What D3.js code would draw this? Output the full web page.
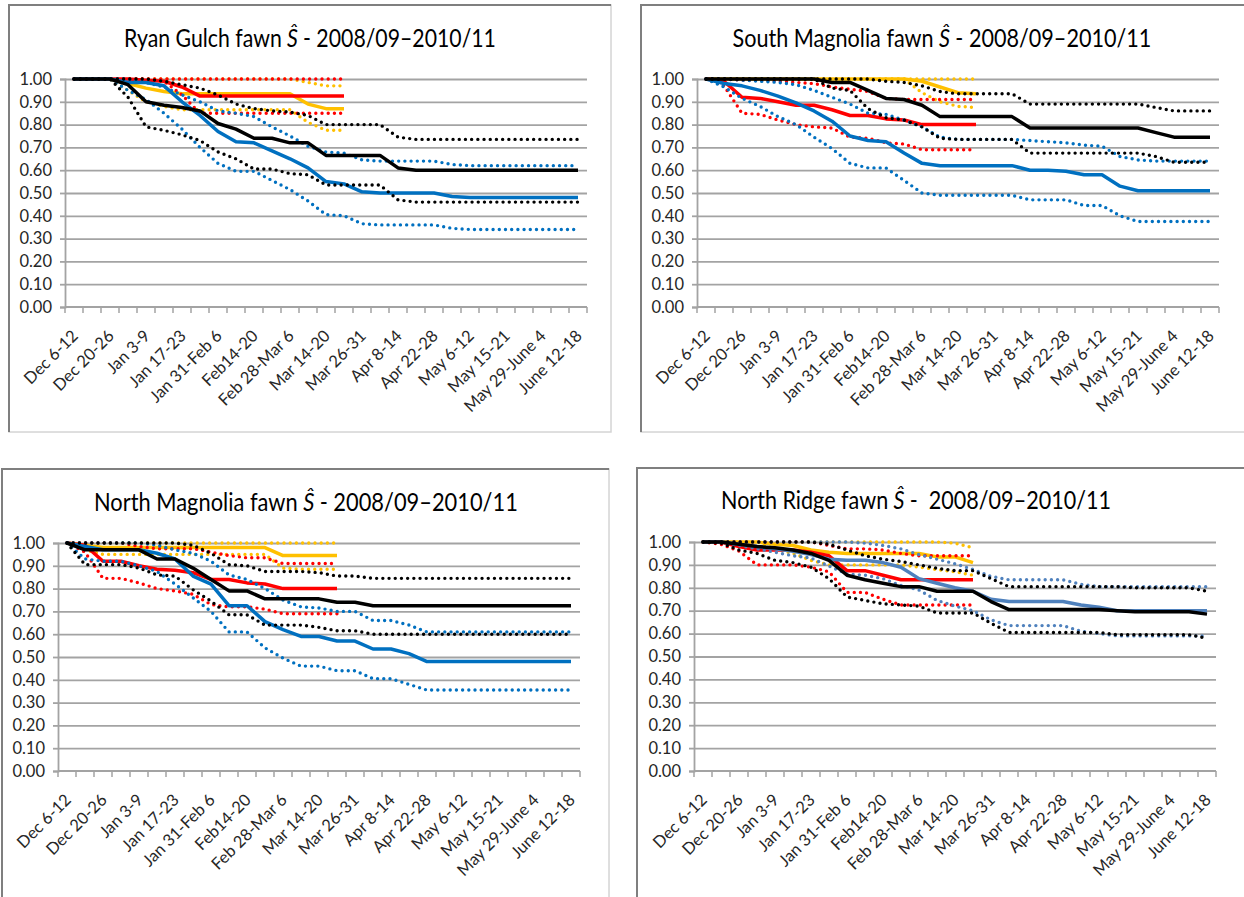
<!DOCTYPE html>
<html>
<head>
<meta charset="utf-8">
<script src="https://cdn.jsdelivr.net/npm/d3@7"></script>
<style>
  body { margin: 0; background: #fff; }
  text { font-family: Lato, "Open Sans", sans-serif; }
</style>
</head>
<body>
<div id="chart"></div>
<script>
// weekly categories (only every other one is labelled)
const categories = ['Dec 6-12', 'Dec 13-19', 'Dec 20-26', 'Dec 27-Jan 2', 'Jan 3-9', 'Jan 10-16', 'Jan 17-23',
  'Jan 24-30', 'Jan 31-Feb 6', 'Feb 7-13', 'Feb14-20', 'Feb 21-27', 'Feb 28-Mar 6', 'Mar 7-13', 'Mar 14-20',
  'Mar 21-25', 'Mar 26-31', 'Apr 1-7', 'Apr 8-14', 'Apr 15-21', 'Apr 22-28', 'Apr 29-May 5', 'May 6-12',
  'May 13-14', 'May 15-21', 'May 22-28', 'May 29-June 4', 'June 5-11', 'June 12-18'];
const yTicks = [0, 0.1, 0.2, 0.3, 0.4, 0.5, 0.6, 0.7, 0.8, 0.9, 1.0];
const titles = ['Ryan Gulch', 'South Magnolia', 'North Magnolia', 'North Ridge'];

// Ryan Gulch
const rgYellow   = [1, 1, 1, 0.98, 0.96, 0.945, 0.935, 0.935, 0.935, 0.935, 0.935, 0.935, 0.935, 0.89, 0.87, 0.87];
const rgYellowHi = [1, 1, 1, 1, 1, 1, 1, 1, 1, 1, 1, 1, 1, 0.985, 0.97, 0.97];
const rgYellowLo = [1, 1, 1, 0.95, 0.9, 0.88, 0.865, 0.865, 0.865, 0.865, 0.865, 0.865, 0.865, 0.81, 0.775, 0.775];
const rgRed   = [1, 1, 1, 1, 0.995, 0.99, 0.965, 0.925, 0.925, 0.925, 0.925, 0.925, 0.925, 0.925, 0.925, 0.925];
const rgRedHi = [1, 1, 1, 1, 1, 1, 1, 1, 1, 1, 1, 1, 1, 1, 1, 1];
const rgRedLo = [1, 1, 1, 1, 1, 0.99, 0.93, 0.85, 0.85, 0.85, 0.85, 0.85, 0.85, 0.85, 0.85, 0.85];
const rgBlue   = [1, 1, 1, 0.985, 0.985, 0.97, 0.9, 0.84, 0.77, 0.725, 0.72, 0.685, 0.65, 0.61, 0.55, 0.54, 0.505,
  0.5, 0.5, 0.5, 0.5, 0.485, 0.48, 0.48, 0.48, 0.48, 0.48, 0.48, 0.48];
const rgBlueHi = [1, 1, 1, 1, 0.985, 0.965, 0.93, 0.9, 0.86, 0.85, 0.835, 0.79, 0.75, 0.705, 0.68, 0.675, 0.645,
  0.64, 0.64, 0.64, 0.64, 0.625, 0.62, 0.62, 0.62, 0.62, 0.62, 0.62, 0.62];
const rgBlueLo = [1, 1, 1, 0.95, 0.91, 0.85, 0.78, 0.7, 0.63, 0.595, 0.595, 0.555, 0.515, 0.465, 0.405, 0.4, 0.365,
  0.36, 0.36, 0.36, 0.36, 0.345, 0.34, 0.34, 0.34, 0.34, 0.34, 0.34, 0.34];
const rgBlack   = [1, 1, 1, 0.975, 0.9, 0.885, 0.875, 0.86, 0.805, 0.78, 0.74, 0.74, 0.72, 0.72, 0.665, 0.665, 0.665,
  0.665, 0.61, 0.6, 0.6, 0.6, 0.6, 0.6, 0.6, 0.6, 0.6, 0.6, 0.6];
const rgBlackHi = [1, 1, 1, 1, 1, 0.99, 0.975, 0.96, 0.93, 0.89, 0.87, 0.86, 0.855, 0.84, 0.8, 0.8, 0.8,
  0.8, 0.745, 0.735, 0.735, 0.735, 0.735, 0.735, 0.735, 0.735, 0.735, 0.735, 0.735];
const rgBlackLo = [1, 1, 1, 0.92, 0.79, 0.775, 0.755, 0.73, 0.68, 0.65, 0.605, 0.605, 0.585, 0.58, 0.535, 0.535, 0.535,
  0.535, 0.47, 0.46, 0.46, 0.46, 0.46, 0.46, 0.46, 0.46, 0.46, 0.46, 0.46];

// South Magnolia
const smYellow   = [1, 1, 1, 1, 1, 1, 1, 1, 1, 1, 1, 1, 0.99, 0.965, 0.94, 0.935];
const smYellowHi = [1, 1, 1, 1, 1, 1, 1, 1, 1, 1, 1, 1, 1, 1, 1, 1];
const smYellowLo = [1, 1, 1, 1, 1, 1, 1, 1, 1, 1, 1, 1, 0.94, 0.9, 0.88, 0.875];
const smRed   = [1, 0.99, 0.92, 0.915, 0.9, 0.885, 0.885, 0.865, 0.84, 0.84, 0.825, 0.82, 0.8, 0.8, 0.8, 0.8];
const smRedHi = [1, 1, 0.995, 0.995, 0.99, 0.985, 0.98, 0.965, 0.955, 0.945, 0.915, 0.91, 0.91, 0.91, 0.91, 0.91];
const smRedLo = [1, 0.97, 0.85, 0.845, 0.82, 0.8, 0.79, 0.785, 0.745, 0.74, 0.72, 0.715, 0.69, 0.69, 0.69, 0.69];
const smBlue   = [1, 0.98, 0.97, 0.95, 0.925, 0.895, 0.86, 0.815, 0.75, 0.73, 0.725, 0.675, 0.63, 0.62, 0.62, 0.62, 0.62,
  0.62, 0.6, 0.6, 0.595, 0.58, 0.58, 0.53, 0.51, 0.51, 0.51, 0.51, 0.51];
const smBlueHi = [1, 1, 0.995, 0.99, 0.985, 0.975, 0.95, 0.92, 0.89, 0.85, 0.845, 0.82, 0.79, 0.745, 0.735, 0.735, 0.735,
  0.735, 0.73, 0.725, 0.72, 0.71, 0.705, 0.66, 0.645, 0.64, 0.64, 0.64, 0.64];
const smBlueLo = [1, 0.965, 0.915, 0.88, 0.835, 0.8, 0.745, 0.695, 0.63, 0.61, 0.61, 0.555, 0.5, 0.49, 0.49, 0.49, 0.49,
  0.49, 0.47, 0.47, 0.47, 0.445, 0.445, 0.4, 0.375, 0.375, 0.375, 0.375, 0.375];
const smBlack   = [1, 1, 1, 1, 1, 1, 1, 0.985, 0.985, 0.95, 0.915, 0.91, 0.885, 0.835, 0.835, 0.835, 0.835,
  0.835, 0.785, 0.785, 0.785, 0.785, 0.785, 0.785, 0.785, 0.765, 0.745, 0.745, 0.745];
const smBlackHi = [1, 1, 1, 1, 1, 1, 1, 1, 1, 1, 0.99, 0.985, 0.97, 0.945, 0.935, 0.935, 0.935,
  0.935, 0.89, 0.89, 0.89, 0.89, 0.89, 0.89, 0.89, 0.875, 0.86, 0.86, 0.86];
const smBlackLo = [1, 1, 1, 1, 1, 1, 1, 0.96, 0.95, 0.87, 0.83, 0.82, 0.79, 0.74, 0.735, 0.735, 0.735,
  0.735, 0.675, 0.675, 0.675, 0.675, 0.675, 0.675, 0.675, 0.66, 0.635, 0.635, 0.635];

// North Magnolia
const nmYellow   = [1, 0.99, 0.98, 0.98, 0.98, 0.98, 0.98, 0.98, 0.98, 0.98, 0.98, 0.98, 0.945, 0.945, 0.945, 0.945];
const nmYellowHi = [1, 1, 1, 1, 1, 1, 1, 1, 1, 1, 1, 1, 1, 1, 1, 1];
const nmYellowLo = [1, 0.97, 0.95, 0.95, 0.95, 0.95, 0.95, 0.95, 0.95, 0.95, 0.95, 0.95, 0.89, 0.885, 0.885, 0.885];
const nmRed   = [1, 0.99, 0.92, 0.92, 0.9, 0.885, 0.88, 0.87, 0.84, 0.84, 0.825, 0.82, 0.8, 0.8, 0.8, 0.8];
const nmRedHi = [1, 1, 1, 1, 0.985, 0.975, 0.975, 0.975, 0.96, 0.945, 0.935, 0.935, 0.91, 0.91, 0.91, 0.91];
const nmRedLo = [1, 0.96, 0.845, 0.845, 0.825, 0.8, 0.79, 0.775, 0.73, 0.72, 0.72, 0.71, 0.69, 0.69, 0.69, 0.69];
const nmBlue   = [1, 0.985, 0.97, 0.97, 0.97, 0.955, 0.93, 0.855, 0.82, 0.725, 0.725, 0.655, 0.62, 0.59, 0.59, 0.57, 0.57,
  0.535, 0.535, 0.515, 0.48, 0.48, 0.48, 0.48, 0.48, 0.48, 0.48, 0.48, 0.48];
const nmBlueHi = [1, 1, 1, 1, 1, 0.99, 0.97, 0.955, 0.92, 0.86, 0.84, 0.8, 0.75, 0.72, 0.715, 0.7, 0.7,
  0.66, 0.66, 0.64, 0.61, 0.61, 0.61, 0.61, 0.61, 0.61, 0.61, 0.61, 0.61];
const nmBlueLo = [1, 0.93, 0.92, 0.92, 0.9, 0.875, 0.82, 0.76, 0.7, 0.61, 0.61, 0.54, 0.495, 0.46, 0.46, 0.44, 0.44,
  0.405, 0.405, 0.38, 0.355, 0.355, 0.355, 0.355, 0.355, 0.355, 0.355, 0.355, 0.355];
const nmBlack   = [1, 0.97, 0.97, 0.97, 0.97, 0.93, 0.93, 0.89, 0.84, 0.79, 0.79, 0.755, 0.755, 0.755, 0.755, 0.74, 0.74,
  0.725, 0.725, 0.725, 0.725, 0.725, 0.725, 0.725, 0.725, 0.725, 0.725, 0.725, 0.725];
const nmBlackHi = [1, 1, 1, 1, 1, 1, 1, 0.99, 0.955, 0.905, 0.9, 0.875, 0.875, 0.875, 0.87, 0.855, 0.855,
  0.845, 0.845, 0.845, 0.845, 0.845, 0.845, 0.845, 0.845, 0.845, 0.845, 0.845, 0.845];
const nmBlackLo = [1, 0.905, 0.905, 0.905, 0.89, 0.86, 0.855, 0.795, 0.745, 0.685, 0.685, 0.64, 0.64, 0.64, 0.63, 0.615, 0.615,
  0.6, 0.6, 0.6, 0.6, 0.6, 0.6, 0.6, 0.6, 0.6, 0.6, 0.6, 0.6];

// North Ridge
const nrYellow   = [1, 1, 1, 1, 0.99, 0.985, 0.965, 0.955, 0.95, 0.95, 0.95, 0.95, 0.95, 0.935, 0.935, 0.91];
const nrYellowHi = [1, 1, 1, 1, 1, 1, 1, 1, 1, 1, 1, 1, 1, 1, 0.995, 0.975];
const nrYellowLo = [1, 1, 1, 1, 0.97, 0.95, 0.92, 0.9, 0.9, 0.9, 0.9, 0.9, 0.89, 0.88, 0.87, 0.855];
const nrRed   = [1, 1, 0.98, 0.965, 0.965, 0.965, 0.955, 0.94, 0.875, 0.875, 0.855, 0.835, 0.835, 0.835, 0.835, 0.835];
const nrRedHi = [1, 1, 1, 1, 1, 1, 1, 0.985, 0.97, 0.97, 0.965, 0.95, 0.94, 0.94, 0.94, 0.94];
const nrRedLo = [1, 0.99, 0.96, 0.9, 0.9, 0.9, 0.89, 0.87, 0.78, 0.78, 0.75, 0.725, 0.725, 0.725, 0.725, 0.725];
const nrBlue   = [1, 1, 0.99, 0.98, 0.97, 0.96, 0.945, 0.925, 0.92, 0.92, 0.91, 0.89, 0.84, 0.82, 0.8, 0.785, 0.75,
  0.74, 0.74, 0.74, 0.74, 0.725, 0.715, 0.7, 0.7, 0.7, 0.7, 0.7, 0.7];
const nrBlueHi = [1, 1, 1, 1, 1, 1, 1, 1, 1, 0.995, 0.985, 0.97, 0.945, 0.925, 0.905, 0.88, 0.85,
  0.835, 0.835, 0.835, 0.835, 0.815, 0.805, 0.805, 0.805, 0.805, 0.805, 0.805, 0.805];
const nrBlueLo = [1, 1, 0.985, 0.97, 0.955, 0.94, 0.93, 0.895, 0.86, 0.855, 0.84, 0.81, 0.79, 0.745, 0.72, 0.7, 0.66,
  0.635, 0.635, 0.635, 0.635, 0.61, 0.6, 0.59, 0.59, 0.59, 0.59, 0.59, 0.59];
const nrBlack   = [1, 1, 0.99, 0.98, 0.975, 0.965, 0.95, 0.92, 0.855, 0.835, 0.82, 0.805, 0.805, 0.785, 0.785, 0.785, 0.74,
  0.705, 0.705, 0.705, 0.705, 0.705, 0.705, 0.7, 0.695, 0.695, 0.695, 0.695, 0.685];
const nrBlackHi = [1, 1, 1, 1, 1, 1, 1, 0.99, 0.965, 0.94, 0.925, 0.915, 0.9, 0.885, 0.875, 0.875, 0.84,
  0.805, 0.805, 0.805, 0.805, 0.805, 0.805, 0.805, 0.8, 0.8, 0.8, 0.8, 0.785];
const nrBlackLo = [1, 0.995, 0.965, 0.95, 0.92, 0.91, 0.89, 0.84, 0.76, 0.745, 0.73, 0.725, 0.72, 0.69, 0.69, 0.69, 0.645,
  0.605, 0.605, 0.605, 0.605, 0.605, 0.605, 0.595, 0.595, 0.595, 0.595, 0.595, 0.58];

//Panel layout
const plotWidth = 522;
const panels = [
  { title: titles[0], frame: [9, 5, 602, 427], x0: 65, yTop: 79, yBot: 307, tx: 310, ty: 47, tw: 372, blue: '#0070C0',
    data: [rgYellow, rgYellowHi, rgYellowLo, rgRed, rgRedHi, rgRedLo, rgBlue, rgBlueHi, rgBlueLo, rgBlack, rgBlackHi, rgBlackLo] },
  { title: titles[1], frame: [641, 5, 604, 427], x0: 697, yTop: 79, yBot: 307, tx: 942, ty: 47, tw: 419, blue: '#0070C0',
    data: [smYellow, smYellowHi, smYellowLo, smRed, smRedHi, smRedLo, smBlue, smBlueHi, smBlueLo, smBlack, smBlackHi, smBlackLo] },
  { title: titles[2], frame: [2, 469, 607, 440], x0: 58, yTop: 543, yBot: 771, tx: 306, ty: 511, tw: 424, blue: '#0070C0',
    data: [nmYellow, nmYellowHi, nmYellowLo, nmRed, nmRedHi, nmRedLo, nmBlue, nmBlueHi, nmBlueLo, nmBlack, nmBlackHi, nmBlackLo] },
  { title: titles[3], frame: [637, 468, 608, 440], x0: 694, yTop: 542, yBot: 771, tx: 916, ty: 509, tw: 390, blue: '#4F81BD',
    data: [nrYellow, nrYellowHi, nrYellowLo, nrRed, nrRedHi, nrRedLo, nrBlue, nrBlueHi, nrBlueLo, nrBlack, nrBlackHi, nrBlackLo] }
];

const svg = d3.select('#chart')
  .append('svg')
  .attr('width', 1244)
  .attr('height', 897);

svg.append('rect').attr('width', 1244).attr('height', 897).attr('fill', '#fff');

panels.forEach((p, pi) => {
  const [fx, fy, fw, fh] = p.frame;
  // chart area border: dark top/left, light right/bottom
  svg.append('rect')
    .attr('x', fx).attr('y', fy).attr('width', fw).attr('height', fh)
    .attr('fill', 'none').attr('stroke', '#d4d4d4').attr('stroke-width', 1.5);
  svg.append('path')
    .attr('d', `M${fx},${fy + fh}V${fy}H${fx + fw}`)
    .attr('fill', 'none').attr('stroke', '#7f7f7f').attr('stroke-width', 2);

  const x = d3.scaleBand().domain(categories).range([p.x0, p.x0 + plotWidth]);
  const y = d3.scaleLinear().domain([0, 1]).range([p.yBot, p.yTop]);
  const g = svg.append('g');

  // title in three pieces (italic S-hat in the middle), squeezed to the narrow width of the original
  const parts = [p.title + ' fawn', 'Ŝ', pi === 3 ? '-  2008/09–2010/11' : '- 2008/09–2010/11'];
  const tg = g.append('g');
  const pieces = tg.selectAll('text')
    .data(parts)
    .enter()
    .append('text')
    .attr('y', 0)
    .attr('font-size', 24.5)
    .attr('fill', '#000')
    .attr('font-style', (d, i) => i === 1 ? 'italic' : null)
    .style('white-space', 'pre')
    .text(d => d);
  const gap = 6;
  let cursor = 0;
  pieces.each(function (d, i) {
    d3.select(this).attr('x', cursor);
    cursor += this.getComputedTextLength() + gap;
  });
  const total = cursor - gap;
  const sx = p.tw / total;
  tg.attr('transform', `translate(${p.tx - p.tw / 2},${p.ty}) scale(${sx},1)`);

  // gridlines
  g.append('g')
    .attr('transform', `translate(${p.x0},0)`)
    .call(d3.axisLeft(y).tickValues(yTicks.slice(1)).tickSize(-plotWidth).tickFormat(''))
    .call(s => s.select('.domain').remove())
    .call(s => s.selectAll('line').attr('stroke', '#a3a3a3').attr('stroke-width', 1.8));

  // y axis
  g.append('g')
    .attr('transform', `translate(${p.x0},0)`)
    .call(d3.axisLeft(y).tickValues(yTicks).tickSize(5).tickPadding(8).tickFormat(d3.format('.2f')))
    .call(s => s.select('.domain').attr('stroke', '#a3a3a3').attr('stroke-width', 1.8))
    .call(s => s.selectAll('line').attr('stroke', '#a3a3a3').attr('stroke-width', 1.8))
    .call(s => s.selectAll('text').attr('font-size', 16.5).attr('fill', '#262626').attr('font-family', 'Lato'));

  // x axis line and tick marks at category boundaries
  g.append('line')
    .attr('x1', p.x0).attr('x2', p.x0 + plotWidth)
    .attr('y1', p.yBot).attr('y2', p.yBot)
    .attr('stroke', '#a3a3a3').attr('stroke-width', 1.8);
  g.selectAll('.xtick')
    .data(categories.concat(['end']))
    .enter()
    .append('line')
    .attr('x1', (d, i) => p.x0 + i * x.bandwidth())
    .attr('x2', (d, i) => p.x0 + i * x.bandwidth())
    .attr('y1', p.yBot).attr('y2', p.yBot + 6)
    .attr('stroke', '#a3a3a3').attr('stroke-width', 1.5);

  // x labels, every other category
  g.selectAll('.xlabel')
    .data(categories.filter((d, i) => i % 2 === 0))
    .enter()
    .append('text')
    .attr('transform', d => `translate(${x(d) + x.bandwidth() / 2 + 5},${p.yBot + 30}) rotate(-45)`)
    .attr('text-anchor', 'end')
    .attr('font-size', 16.5)
    .attr('fill', '#262626')
    .text(d => d);

  // series
  const colors = ['#FFC000', '#FF0000', p.blue, '#000000'];
  const line = d3.line()
    .x((d, i) => x(categories[i]) + x.bandwidth() / 2)
    .y(d => y(d));

  p.data.forEach((values, si) => {
    const dotted = si % 3 !== 0;
    g.append('path')
      .datum(values)
      .attr('d', line)
      .attr('fill', 'none')
      .attr('stroke', colors[Math.floor(si / 3)])
      .attr('stroke-width', dotted ? 3.4 : 3.5)
      .attr('stroke-linecap', dotted ? 'round' : 'butt')
      .attr('stroke-linejoin', 'round')
      .attr('stroke-dasharray', dotted ? '0 6.2' : null);
  });
});
</script>
</body>
</html>
